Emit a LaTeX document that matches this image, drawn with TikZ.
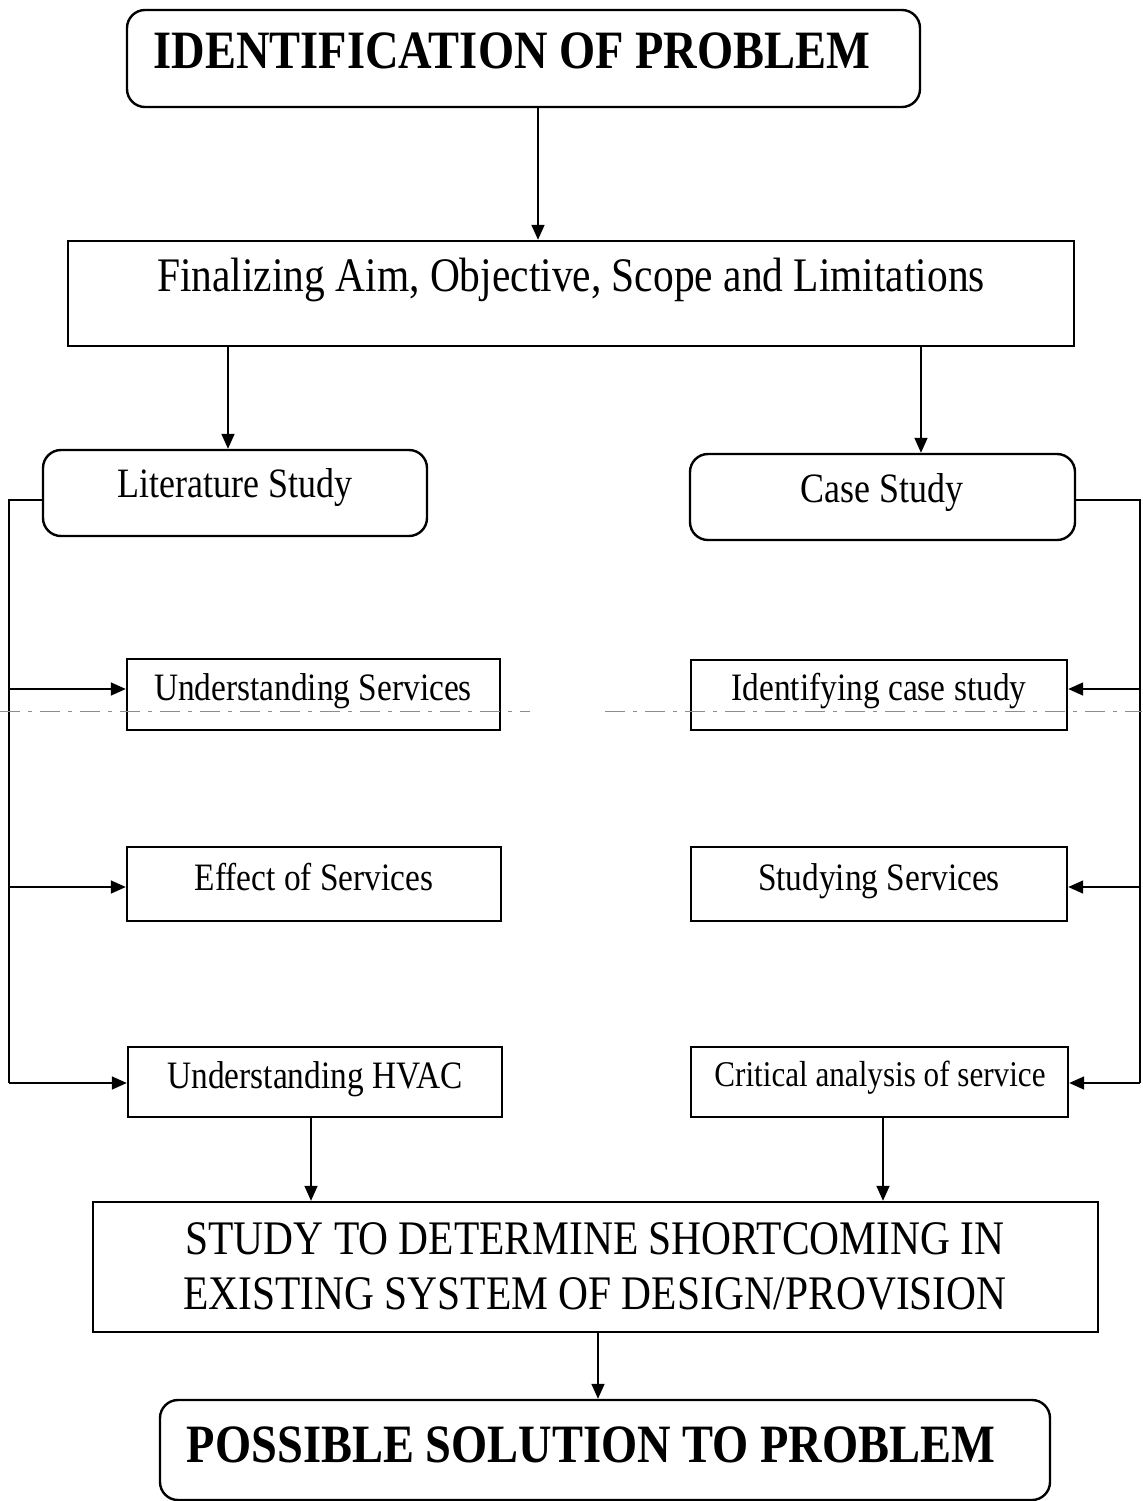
\documentclass[tikz,border=0pt]{standalone}
\usepackage{fontspec}
\setmainfont{Liberation Serif}[FakeStretch=0.86]
\usetikzlibrary{arrows.meta}
\begin{document}
\begin{tikzpicture}[x=0.5pt,y=-0.5pt,
  boxr/.style={draw, line width=1.2pt, rounded corners=9pt, inner sep=0pt},
  boxs/.style={draw, line width=1.2pt, inner sep=0pt},
  txt/.style={inner sep=0pt, align=center},
  conn/.style={line width=0.8pt, -{Triangle[length=7.5pt,width=6.5pt]}},
  bus/.style={line width=0.9pt}
]
\useasboundingbox (0,0) rectangle (1142,1501);
% boxes
\node[boxr, minimum width=396.5pt, minimum height=48.5pt] (b1) at (523.5,58.5) {};
\node[boxs, minimum width=503pt, minimum height=52.5pt] (b2) at (571,293.5) {};
\node[boxr, minimum width=192pt, minimum height=43pt] (ls) at (235,493) {};
\node[boxr, minimum width=192.5pt, minimum height=43pt] (cs) at (882.5,497) {};
\node[boxs, minimum width=186.5pt, minimum height=35.5pt] (us) at (313.5,694.5) {};
\node[boxs, minimum width=187pt, minimum height=37pt] (es) at (314,884) {};
\node[boxs, minimum width=187pt, minimum height=35pt] (uh) at (315,1082) {};
\node[boxs, minimum width=188pt, minimum height=35pt] (ic) at (879,695) {};
\node[boxs, minimum width=188pt, minimum height=37pt] (ss) at (879,884) {};
\node[boxs, minimum width=188.5pt, minimum height=35pt] (ca) at (879.5,1082) {};
\node[boxs, minimum width=502.5pt, minimum height=65pt] (st) at (595.5,1267) {};
\node[boxr, minimum width=445pt, minimum height=50pt] (ps) at (605,1450) {};
% texts
\node[txt, font=\fontsize{27}{31}\selectfont\bfseries, anchor=base] (t1) at (512,68) {IDENTIFICATION OF PROBLEM};
\node[txt, font=\fontsize{24.1}{28}\selectfont, anchor=base] (t2) at (571,291) {Finalizing Aim, Objective, Scope and Limitations};
\node[txt, font=\fontsize{20.9}{24}\selectfont, anchor=base] (tls) at (235,497) {Literature Study};
\node[txt, font=\fontsize{20.9}{24}\selectfont, anchor=base] (tcs) at (882,502) {Case Study};
\node[txt, font=\fontsize{19.4}{23}\selectfont, anchor=base] (tus) at (313,700) {Understanding Services};
\node[txt, font=\fontsize{19.4}{23}\selectfont, anchor=base] (tes) at (314,890) {Effect of Services};
\node[txt, font=\fontsize{19.4}{23}\selectfont, anchor=base] (tuh) at (315,1088) {Understanding HVAC};
\node[txt, font=\fontsize{19.4}{23}\selectfont, anchor=base] (tic) at (879,700) {Identifying case study};
\node[txt, font=\fontsize{19.4}{23}\selectfont, anchor=base] (tss) at (879,890) {Studying Services};
\node[txt, font=\fontsize{18.1}{22}\selectfont, anchor=base] (tca) at (880,1086) {Critical analysis of service};
\node[txt, font=\fontsize{24.1}{27.5}\selectfont] (tst) at (595,1266) {STUDY TO DETERMINE SHORTCOMING IN\\EXISTING SYSTEM OF DESIGN/PROVISION};
\node[txt, font=\fontsize{27}{31}\selectfont\bfseries, anchor=base] (tps) at (591,1462) {POSSIBLE SOLUTION TO PROBLEM};
% bus coordinates
\coordinate (lt) at (9,500);
\coordinate (lb) at (9,1083);
\coordinate (rt) at (1140,500);
\coordinate (rb) at (1140,1083);
% connectors
\draw[conn] (b1.south -| 538,0) -- (b2.north -| 538,0);
\draw[conn] (b2.south -| 228,0) -- (ls.north -| 228,0);
\draw[conn] (b2.south -| 921,0) -- (cs.north -| 921,0);
\draw[bus] (ls.west |- lt) -- (lt) -- (lb);
\draw[conn] (lt |- 0,689) -- (us.west |- 0,689);
\draw[conn] (lt |- 0,887) -- (es.west |- 0,887);
\draw[conn] (lb) -- (uh.west |- lb);
\draw[bus] (cs.east |- rt) -- (rt) -- (rb);
\draw[conn] (rt |- 0,689) -- (ic.east |- 0,689);
\draw[conn] (rt |- 0,887) -- (ss.east |- 0,887);
\draw[conn] (rb) -- (ca.east |- rb);
\draw[conn] (uh.south -| 311,0) -- (st.north -| 311,0);
\draw[conn] (ca.south -| 883,0) -- (st.north -| 883,0);
\draw[conn] (st.south -| 598,0) -- (ps.north -| 598,0);
% faint scan line
\draw[black!45, line width=0.35pt, dash pattern=on 10pt off 4pt on 2pt off 4pt] (0,711) -- (530,711);
\draw[black!45, line width=0.35pt, dash pattern=on 10pt off 4pt on 2pt off 4pt] (605,711) -- (1142,711);
\end{tikzpicture}
\end{document}
